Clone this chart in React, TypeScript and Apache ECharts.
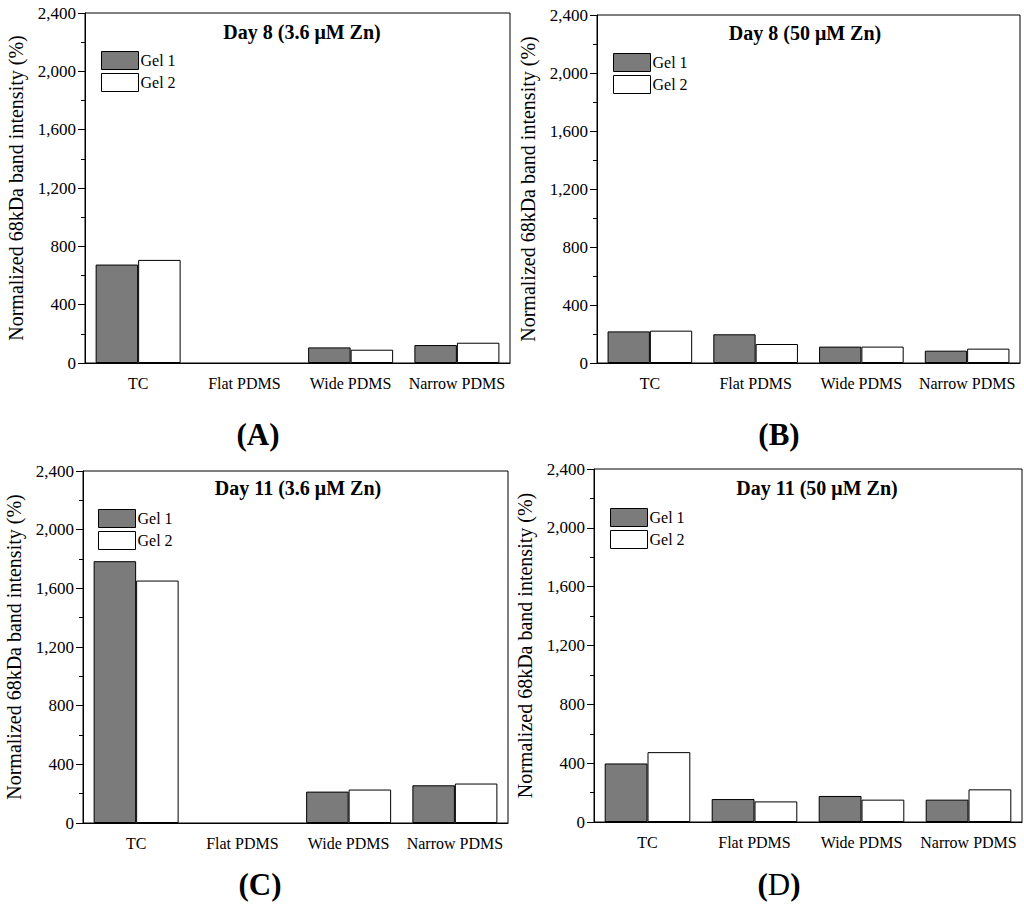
import React, { useEffect, useRef } from "react";
import * as echarts from "echarts";

const categories = ["TC", "Flat PDMS", "Wide PDMS", "Narrow PDMS"];
const seriesNames = ["Gel 1", "Gel 2"];
const panelTitles = ["Day 8 (3.6 μM Zn)", "Day 8 (50 μM Zn)", "Day 11 (3.6 μM Zn)", "Day 11 (50 μM Zn)"];
const panelLetters = ["A", "B", "C", "D"];
const yTicks = [0, 400, 800, 1200, 1600, 2000, 2400];

const gel1A = [675, 0, 107, 123];
const gel2A = [707, 0, 91, 139];
const gel1B = [218, 198, 113, 85];
const gel2B = [223, 131, 113, 99];
const gel1C = [1785, 0, 214, 257];
const gel2C = [1653, 0, 228, 269];
const gel1D = [398, 156, 177, 152];
const gel2D = [475, 140, 152, 222];

const panelData = [
  [gel1A, gel2A],
  [gel1B, gel2B],
  [gel1C, gel2C],
  [gel1D, gel2D],
];

const FONT = "Liberation Serif";

const grids = [
  { left: 85, top: 13, width: 425, height: 350 },
  { left: 597, top: 15, width: 423, height: 348 },
  { left: 83, top: 471, width: 425, height: 352 },
  { left: 594, top: 469, width: 428, height: 353 },
];
const legendPos = [
  { left: 96, top: 46 },
  { left: 608, top: 48 },
  { left: 93, top: 504 },
  { left: 605, top: 503 },
];
const titlePos = [
  { x: 297, y: 29 },
  { x: 800, y: 30 },
  { x: 293, y: 485 },
  { x: 812, y: 485 },
];
const letterPos = [
  { x: 253, y: 432 },
  { x: 774, y: 432 },
  { x: 255, y: 882 },
  { x: 774, y: 882 },
];

export default function App() {
  const ref = useRef<HTMLDivElement>(null);
  useEffect(() => {
    if (!ref.current) return;
    const chart = echarts.init(ref.current, undefined, { renderer: "svg" });
    const xAxis: any[] = [];
    const yAxis: any[] = [];
    const series: any[] = [];
    const legend: any[] = [];
    const title: any[] = [];
    grids.forEach((g, i) => {
      xAxis.push({
        type: "category",
        gridIndex: i,
        data: categories,
        axisLine: { lineStyle: { color: "#000", width: 1 } },
        axisTick: { alignWithLabel: true, length: 7, lineStyle: { color: "#000" } },
        axisLabel: { interval: 0, color: "#000", fontFamily: FONT, fontSize: 16, margin: 12 },
      });
      xAxis.push({
        type: "category",
        gridIndex: i,
        data: categories,
        axisLine: { show: false },
        axisTick: { length: 4, lineStyle: { color: "#000" } },
        axisLabel: { show: false },
      });
      yAxis.push({
        type: "value",
        gridIndex: i,
        min: 0,
        max: 2400,
        interval: 400,
        name: "Normalized 68kDa band intensity (%)",
        nameLocation: "middle",
        nameGap: 59,
        nameTextStyle: { color: "#000", fontFamily: FONT, fontSize: 20 },
        axisLine: { show: true, lineStyle: { color: "#000", width: 1 } },
        axisTick: { show: true, length: 7, lineStyle: { color: "#000" } },
        minorTick: { show: true, splitNumber: 2, length: 4, lineStyle: { color: "#000" } },
        splitLine: { show: false },
        axisLabel: {
          color: "#000",
          fontFamily: FONT,
          fontSize: 17,
          margin: 9,
          formatter: (v: number) => (yTicks.includes(v) ? v.toLocaleString("en-US") : ""),
        },
      });
      panelData[i].forEach((vals, s) => {
        series.push({
          type: "bar",
          name: seriesNames[s],
          xAxisIndex: i * 2,
          yAxisIndex: i,
          data: vals.map((v) => (v === 0 ? "-" : v)),
          barGap: "0%",
          barCategoryGap: "20%",
          itemStyle: {
            color: s === 0 ? "#7b7b7b" : "#ffffff",
            borderColor: "#000",
            borderWidth: 1,
          },
        });
      });
      legend.push({
        orient: "vertical",
        left: legendPos[i].left,
        top: legendPos[i].top,
        itemWidth: 37,
        itemHeight: 18,
        itemGap: 3,
        icon: "rect",
        selectedMode: false,
        data: seriesNames,
        itemStyle: { borderWidth: 1, borderColor: "#000" },
        textStyle: { color: "#000", fontFamily: FONT, fontSize: 16, padding: [0, 0, 0, -3] },
      });
      title.push({
        text: panelTitles[i],
        left: titlePos[i].x,
        top: titlePos[i].y - 12,
        textAlign: "center",
        textStyle: { color: "#000", fontFamily: FONT, fontSize: 20, fontWeight: "bold" },
      });
      const boldLetter = i < 3;
      title.push({
        text: "{p|(}{l|" + panelLetters[i] + "}{p|)}",
        left: letterPos[i].x,
        top: letterPos[i].y - 18,
        textAlign: "center",
        textStyle: {
          rich: {
            p: { fontFamily: FONT, fontSize: 31, color: "#000" },
            l: { fontFamily: FONT, fontSize: 31, color: "#000", fontWeight: boldLetter ? "bold" : "normal" },
          },
        },
      });
    });
    chart.setOption({
      animation: false,
      backgroundColor: "#fff",
      grid: grids.map((g) => ({ ...g, show: true, borderColor: "#000", borderWidth: 1, backgroundColor: "transparent" })),
      xAxis,
      yAxis,
      series,
      legend,
      title,
    });
    return () => chart.dispose();
  }, []);
  return <div ref={ref} style={{ position: "absolute", left: 0, top: 0, width: 1024, height: 904 }} />;
}
